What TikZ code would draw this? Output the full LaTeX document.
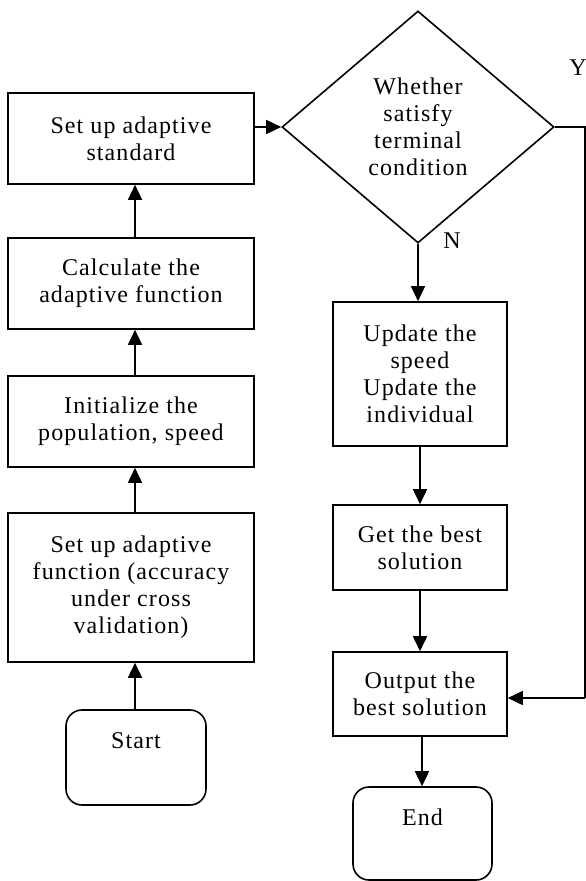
\documentclass[tikz,border=0pt]{standalone}
\usepackage{fontspec}
\setmainfont{Liberation Serif}[LetterSpace=4.5]
\usetikzlibrary{arrows.meta,shapes.geometric}
\begin{document}
\begin{tikzpicture}[x=1pt,y=-1pt,
  every node/.style={font=\fontsize{24}{27}\selectfont, align=center, text=black},
  box/.style={draw, line width=1.6pt, inner sep=0pt},
  term/.style={draw, line width=1.6pt, rounded corners=16pt, inner sep=0pt},
  dec/.style={draw, diamond, line width=1.6pt, inner sep=0pt},
  arr/.style={line width=1.6pt, -{Triangle[length=15pt,width=14pt]}},
  lnk/.style={line width=1.6pt}]
\useasboundingbox (0,0) rectangle (586,881);
% left column
\node[box, minimum width=246pt, minimum height=91pt] (sa) at (131,138.5) {Set up adaptive\\standard};
\node[box, minimum width=246pt, minimum height=91pt] (calc) at (131,283.5) {Calculate the\\adaptive function};
\node[box, minimum width=246pt, minimum height=91pt] (init) at (131,421.5) {Initialize the\\population, speed};
\node[box, minimum width=246pt, minimum height=149pt] (sf) at (131,587.5) {Set up adaptive\\function (accuracy\\under cross\\validation)};
\node[term, minimum width=140pt, minimum height=95pt] (start) at (136,757.5) {Start\\[6pt]\phantom{S}};
% right column
\node[dec, minimum width=272pt, minimum height=232pt] (cond) at (418,127) {Whether\\satisfy\\terminal\\condition};
\node[box, minimum width=174pt, minimum height=144pt] (upd) at (420,374) {Update the\\speed\\Update the\\individual};
\node[box, minimum width=174pt, minimum height=85pt] (best) at (420,547.5) {Get the best\\solution};
\node[box, minimum width=174pt, minimum height=84pt] (out) at (420,694) {Output the\\best solution};
\node[term, minimum width=139pt, minimum height=93pt] (end) at (422.5,833.5) {End\\[6pt]\phantom{S}};
% labels
\node (ylab) at (578,68) {Y};
\node (nlab) at (452,241) {N};
\coordinate (yc1) at (585,127);
\coordinate (yc2) at (585,698);
% connectors
\draw[arr] ([xshift=-1pt]start.north) -- ([xshift=4pt]sf.south);
\draw[arr] ([xshift=4pt]sf.north) -- ([xshift=4pt]init.south);
\draw[arr] ([xshift=4pt]init.north) -- ([xshift=4pt]calc.south);
\draw[arr] ([xshift=4pt]calc.north) -- ([xshift=4pt]sa.south);
\draw[arr] (sa.east |- cond.west) -- (cond.west);
\draw[arr] (cond.south) -- (cond.south |- upd.north);
\draw[arr] (upd.south) -- (best.north);
\draw[arr] (best.south) -- (out.north);
\draw[arr] ([xshift=2pt]out.south) -- ([xshift=2pt]out.south |- end.north);
\draw[lnk] (cond.east) -- (yc1) -- (yc2);
\draw[arr] (yc2) -- (out.east |- yc2);
\end{tikzpicture}
\end{document}
